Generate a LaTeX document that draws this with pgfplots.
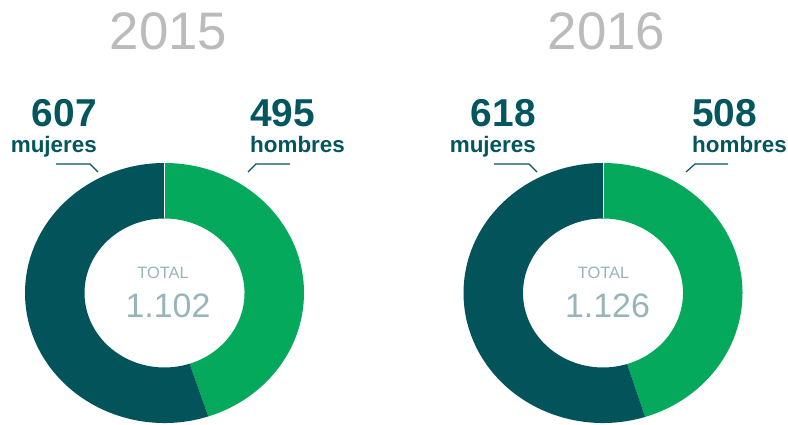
\documentclass[border=0pt]{standalone}
\usepackage{pgfplots}
\pgfplotsset{compat=1.18}
\usetikzlibrary{calc}
\usepackage{fontspec}
\setmainfont{Liberation Sans}
\definecolor{teal}{HTML}{02535A}
\definecolor{grn}{HTML}{04A95B}
\definecolor{lbl}{HTML}{03565E}
\definecolor{tot}{HTML}{97B5B8}
\definecolor{yr}{HTML}{BBBBBB}
% data: mujeres, hombres per year
\def\Mone{607}\def\Hone{495}
\def\Mtwo{618}\def\Htwo{508}
% ring geometry (bp): outer rx, ry; inner rx, ry
\def\RX{139.5}\def\RY{130}\def\rx{80}\def\ry{74.5}
\begin{document}
\begin{tikzpicture}
\path[use as bounding box] (0,0) rectangle (788bp,425bp);
\pgfmathsetmacro{\Eone}{90-\Hone/(\Hone+\Mone)*360}
\pgfmathsetmacro{\Etwo}{90-\Htwo/(\Htwo+\Mtwo)*360}
\pgfmathsetmacro{\OXone}{\RX*cos(\Eone)}\pgfmathsetmacro{\OYone}{\RY*sin(\Eone)}
\pgfmathsetmacro{\IXone}{\rx*cos(\Eone)}\pgfmathsetmacro{\IYone}{\ry*sin(\Eone)}
\pgfmathsetmacro{\OXtwo}{\RX*cos(\Etwo)}\pgfmathsetmacro{\OYtwo}{\RY*sin(\Etwo)}
\pgfmathsetmacro{\IXtwo}{\rx*cos(\Etwo)}\pgfmathsetmacro{\IYtwo}{\ry*sin(\Etwo)}
\begin{axis}[
  at={(0,0)}, anchor=south west,
  scale only axis, width=788bp, height=425bp,
  xmin=0, xmax=788, ymin=0, ymax=425,
  hide axis, clip=true,
]
% 2015 donut, center (164.5,132)
\fill[grn] ($(axis cs:164.5,132)+(0bp,\RY bp)$) arc[start angle=90, end angle=\Eone, x radius=\RX bp, y radius=\RY bp]
  -- ($(axis cs:164.5,132)+(\IXone bp,\IYone bp)$) arc[start angle=\Eone, end angle=90, x radius=\rx bp, y radius=\ry bp] -- cycle;
\fill[teal] ($(axis cs:164.5,132)+(\OXone bp,\OYone bp)$) arc[start angle=\Eone, end angle=-270, x radius=\RX bp, y radius=\RY bp]
  -- ($(axis cs:164.5,132)+(0bp,\ry bp)$) arc[start angle=90, end angle=\Eone+360, x radius=\rx bp, y radius=\ry bp] -- cycle;
\draw[white, line width=0.6bp] ($(axis cs:164.5,132)+(0bp,\ry bp)$) -- ($(axis cs:164.5,132)+(0bp,\RY bp+1bp)$);
% 2016 donut, center (603,132)
\fill[grn] ($(axis cs:603,132)+(0bp,\RY bp)$) arc[start angle=90, end angle=\Etwo, x radius=\RX bp, y radius=\RY bp]
  -- ($(axis cs:603,132)+(\IXtwo bp,\IYtwo bp)$) arc[start angle=\Etwo, end angle=90, x radius=\rx bp, y radius=\ry bp] -- cycle;
\fill[teal] ($(axis cs:603,132)+(\OXtwo bp,\OYtwo bp)$) arc[start angle=\Etwo, end angle=-270, x radius=\RX bp, y radius=\RY bp]
  -- ($(axis cs:603,132)+(0bp,\ry bp)$) arc[start angle=90, end angle=\Etwo+360, x radius=\rx bp, y radius=\ry bp] -- cycle;
\draw[white, line width=0.6bp] ($(axis cs:603,132)+(0bp,\ry bp)$) -- ($(axis cs:603,132)+(0bp,\RY bp+1bp)$);

% years
\node[anchor=base, text=yr, font=\fontsize{53}{60}\selectfont, inner sep=0] at (axis cs:168.5,375) {2015};
\node[anchor=base, text=yr, font=\fontsize{53}{60}\selectfont, inner sep=0] at (axis cs:606.5,375) {2016};

% labels 2015
\node[anchor=base east, text=lbl, font=\fontsize{39}{44}\selectfont\bfseries, inner sep=0] at (axis cs:97,298) {\Mone};
\node[anchor=base east, text=lbl, font=\fontsize{22.5}{26}\selectfont\bfseries, inner sep=0] at (axis cs:97,272) {mujeres};
\node[anchor=base west, text=lbl, font=\fontsize{39}{44}\selectfont\bfseries, inner sep=0] at (axis cs:250,298) {\Hone};
\node[anchor=base west, text=lbl, font=\fontsize{22.5}{26}\selectfont\bfseries, inner sep=0] at (axis cs:250,272) {hombres};
\draw[lbl, line width=1.2bp] (axis cs:56,261) -- (axis cs:90,261) -- (axis cs:98,253);
\draw[lbl, line width=1.2bp] (axis cs:248,253) -- (axis cs:256,261) -- (axis cs:290,261);

% labels 2016
\node[anchor=base east, text=lbl, font=\fontsize{39}{44}\selectfont\bfseries, inner sep=0] at (axis cs:536,298) {\Mtwo};
\node[anchor=base east, text=lbl, font=\fontsize{22.5}{26}\selectfont\bfseries, inner sep=0] at (axis cs:536,272) {mujeres};
\node[anchor=base west, text=lbl, font=\fontsize{39}{44}\selectfont\bfseries, inner sep=0] at (axis cs:692,298) {\Htwo};
\node[anchor=base west, text=lbl, font=\fontsize{22.5}{26}\selectfont\bfseries, inner sep=0] at (axis cs:692,272) {hombres};
\draw[lbl, line width=1.2bp] (axis cs:494,261) -- (axis cs:529,261) -- (axis cs:537,253);
\draw[lbl, line width=1.2bp] (axis cs:686,253) -- (axis cs:695,261) -- (axis cs:728,261);

% totals
\node[anchor=base, text=tot, font=\fontsize{16.5}{20}\selectfont, inner sep=0] at (axis cs:163,146) {TOTAL};
\node[anchor=base, text=tot, font=\fontsize{34}{40}\selectfont, inner sep=0] at (axis cs:168,107) {1.102};
\node[anchor=base, text=tot, font=\fontsize{16.5}{20}\selectfont, inner sep=0] at (axis cs:603.5,146) {TOTAL};
\node[anchor=base, text=tot, font=\fontsize{34}{40}\selectfont, inner sep=0] at (axis cs:607.5,107) {1.126};
\end{axis}
\end{tikzpicture}
\end{document}
